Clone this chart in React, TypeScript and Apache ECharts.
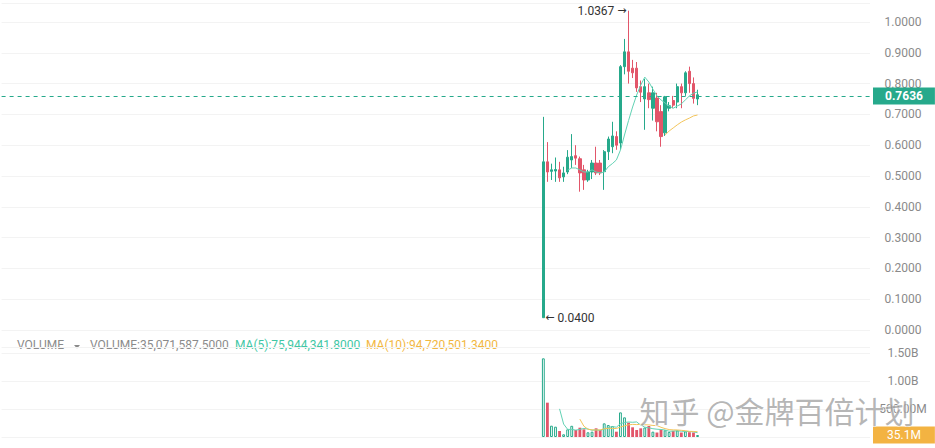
import React, { useEffect, useRef } from 'react';
import * as echarts from 'echarts';

// ---- data ----
const opens  = [0.04, 0.546, 0.515, 0.516, 0.52, 0.497, 0.513, 0.552, 0.566, 0.556, 0.52, 0.487, 0.513, 0.542, 0.542, 0.514, 0.579, 0.595, 0.628, 0.607, 0.855, 0.903, 0.85, 0.85, 0.79, 0.75, 0.77, 0.72, 0.753, 0.709, 0.64, 0.72, 0.745, 0.74, 0.79, 0.77, 0.84, 0.8, 0.75];
const closes = [0.546, 0.513, 0.52, 0.521, 0.494, 0.51, 0.561, 0.563, 0.558, 0.51, 0.487, 0.513, 0.542, 0.51, 0.51, 0.579, 0.62, 0.63, 0.6, 0.855, 0.903, 0.84, 0.835, 0.786, 0.772, 0.79, 0.748, 0.77, 0.676, 0.628, 0.757, 0.728, 0.73, 0.79, 0.77, 0.835, 0.8, 0.752, 0.7636];
const lows   = [0.04, 0.481, 0.487, 0.481, 0.481, 0.481, 0.506, 0.526, 0.536, 0.449, 0.455, 0.481, 0.49, 0.503, 0.503, 0.455, 0.552, 0.574, 0.585, 0.585, 0.83, 0.8, 0.818, 0.773, 0.74, 0.65, 0.72, 0.68, 0.645, 0.595, 0.63, 0.71, 0.72, 0.72, 0.72, 0.76, 0.77, 0.735, 0.73];
const highs  = [0.692, 0.61, 0.54, 0.56, 0.546, 0.53, 0.584, 0.636, 0.6, 0.563, 0.536, 0.52, 0.552, 0.595, 0.552, 0.584, 0.628, 0.676, 0.645, 0.86, 0.945, 1.0367, 0.877, 0.87, 0.81, 0.815, 0.8, 0.79, 0.77, 0.73, 0.76, 0.74, 0.76, 0.8, 0.8, 0.84, 0.855, 0.82, 0.78];
const ma7    = [null, null, null, null, null, null, 0.519, 0.526, 0.526, 0.52, 0.513, 0.513, 0.52, 0.513, 0.51, 0.513, 0.53, 0.54, 0.552, 0.584, 0.633, 0.68, 0.724, 0.763, 0.795, 0.821, 0.805, 0.782, 0.76, 0.747, 0.737, 0.727, 0.72, 0.727, 0.734, 0.747, 0.76, 0.769, 0.773];
const ma30   = [null, null, null, null, null, null, null, null, null, null, null, null, null, null, null, null, null, null, null, null, null, null, null, null, null, null, null, null, null, null, 0.633, 0.646, 0.656, 0.666, 0.675, 0.682, 0.688, 0.695, 0.698];
const volumes = [1405e6, 613e6, 202e6, 184e6, 107e6, 48e6, 137e6, 200e6, 125e6, 166e6, 137e6, 84e6, 95e6, 155e6, 125e6, 244e6, 214e6, 196e6, 95e6, 440e6, 351e6, 256e6, 173e6, 125e6, 155e6, 170e6, 196e6, 95e6, 80e6, 130e6, 120e6, 90e6, 110e6, 117e6, 80e6, 100e6, 85e6, 80e6, 35071587.5];
const volMa5 = [null, null, null, null, 502e6, 231e6, 136e6, 135e6, 123e6, 135e6, 153e6, 142e6, 121e6, 127e6, 119e6, 141e6, 167e6, 187e6, 175e6, 238e6, 259e6, 268e6, 263e6, 269e6, 212e6, 176e6, 164e6, 148e6, 139e6, 134e6, 124e6, 103e6, 106e6, 113e6, 103e6, 99e6, 98e6, 92e6, 75944341.8];
const volMa10 = [null, null, null, null, null, null, null, null, null, 319e6, 192e6, 139e6, 128e6, 125e6, 127e6, 147e6, 155e6, 154e6, 151e6, 179e6, 200e6, 217e6, 225e6, 222e6, 225e6, 218e6, 216e6, 206e6, 204e6, 173e6, 150e6, 133e6, 127e6, 126e6, 119e6, 112e6, 101e6, 99e6, 94720501.34];
const priceTicks = [0, 0.1, 0.2, 0.3, 0.4, 0.5, 0.6, 0.7, 0.8, 0.9, 1.0];
const volumeTicks = [0, 5e8, 1e9, 1.5e9];

// empty slots of the time axis before and after the traded period
const LEAD = 133;
const TRAIL = 42;

const UP = '#26a98b';
const DOWN = '#e2566a';
const MA_TEAL = '#62d2b4';
const MA_YELLOW = '#f3c55b';
const VOL_TAG = '#f3b342';
const AXIS_TEXT = '#8a8a8a';
const FONT = 'Roboto, "Noto Sans", sans-serif';

function fmtVol(v: number) {
  if (v >= 1e9) return (v / 1e9).toFixed(2) + 'B';
  return (v / 1e6).toFixed(2) + 'M';
}
function fmtNum4(v: number) {
  return v.toLocaleString('en-US', { minimumFractionDigits: 4, maximumFractionDigits: 4 });
}

export default function App() {
  const ref = useRef<HTMLDivElement>(null);
  useEffect(() => {
    const chart = echarts.init(ref.current!, null, { renderer: 'svg' });
    const n = opens.length;
    const N = LEAD + n + TRAIL;
    const cats = Array.from({ length: N }, (_, i) => String(i));
    const pad = (arr: any[], empty: any) => [
      ...Array(LEAD).fill(empty),
      ...arr,
      ...Array(TRAIL).fill(empty),
    ];
    const candleData = pad(
      opens.map((o, i) => [o, closes[i], lows[i], highs[i]]),
      ['-', '-', '-', '-']
    );
    const line = (arr: (number | null)[]) => pad(arr.map((v) => (v == null ? '-' : v)), '-');
    const volData = pad(
      volumes.map((v, i) => {
        const up = closes[i] >= opens[i];
        return {
          value: v,
          itemStyle: up
            ? { color: '#ffffff', borderColor: UP, borderWidth: 1 }
            : { color: DOWN, borderColor: DOWN, borderWidth: 0 },
        };
      }),
      '-'
    );
    let hiIdx = 0;
    let loIdx = 0;
    highs.forEach((h, i) => { if (h > highs[hiIdx]) hiIdx = i; });
    lows.forEach((l, i) => { if (l < lows[loIdx]) loIdx = i; });
    const lastClose = closes[n - 1];
    const lastVol = volumes[n - 1];

    const gridLeft = 1.6;
    const gridRight = 65;

    const option: any = {
      animation: false,
      backgroundColor: '#ffffff',
      textStyle: { fontFamily: FONT },
      grid: [
        { left: gridLeft, right: gridRight, top: 3.5, bottom: 118 },
        { left: gridLeft, right: gridRight, top: 347.4, bottom: 11 },
      ],
      xAxis: [
        {
          type: 'category', gridIndex: 0, data: cats, boundaryGap: true,
          axisLine: { show: false }, axisTick: { show: false }, axisLabel: { show: false },
          splitLine: { show: false },
        },
        {
          type: 'category', gridIndex: 1, data: cats, boundaryGap: true,
          axisLine: { show: false }, axisTick: { show: false }, axisLabel: { show: false },
          splitLine: { show: false },
        },
      ],
      yAxis: [
        {
          type: 'value', gridIndex: 0, position: 'right',
          min: priceTicks[0], max: 1.06, interval: priceTicks[1] - priceTicks[0],
          axisLine: { show: false }, axisTick: { show: false },
          splitLine: { show: true, lineStyle: { color: '#f3f3f3', width: 1 } },
          axisLabel: {
            show: true, showMaxLabel: false, align: 'center', margin: 33,
            color: AXIS_TEXT, fontSize: 12, fontFamily: FONT,
            formatter: (v: number) => v.toFixed(4),
          },
        },
        {
          type: 'value', gridIndex: 1, position: 'right',
          min: volumeTicks[0], max: 1.6e9, interval: volumeTicks[1] - volumeTicks[0],
          axisLine: { show: false }, axisTick: { show: false },
          splitLine: { show: true, lineStyle: { color: '#f3f3f3', width: 1 } },
          axisLabel: {
            show: true, showMaxLabel: false, showMinLabel: false, align: 'center', margin: 33,
            color: AXIS_TEXT, fontSize: 12, fontFamily: FONT,
            formatter: (v: number) => fmtVol(v),
          },
        },
      ],
      series: [
        {
          type: 'candlestick', name: 'K', xAxisIndex: 0, yAxisIndex: 0,
          data: candleData, barWidth: '70%',
          itemStyle: { color: UP, color0: DOWN, borderColor: UP, borderColor0: DOWN, borderWidth: 1 },
          markLine: {
            silent: true, symbol: ['none', 'none'], animation: false,
            data: [{ yAxis: lastClose }],
            lineStyle: { color: UP, type: [4, 4], width: 1 },
            label: {
              show: true, position: 'end', distance: 3,
              formatter: lastClose.toFixed(4),
              color: '#ffffff', backgroundColor: UP, padding: [3, 12, 2, 12],
              fontWeight: 'bold', fontSize: 12, fontFamily: FONT,
            },
          },
          markPoint: {
            silent: true, animation: false,
            symbol: 'circle', symbolSize: 2,
            itemStyle: { color: 'rgba(0,0,0,0)' },
            data: [
              {
                coord: [LEAD + hiIdx, highs[hiIdx]],
                label: {
                  show: true, position: 'left', distance: 1,
                  formatter: highs[hiIdx].toFixed(4) + ' {ar|\u2192}',
                  color: '#333333', fontSize: 12, fontFamily: FONT,
                  rich: { ar: { fontFamily: '"DejaVu Sans"', fontSize: 11, color: '#333333' } },
                },
              },
              {
                coord: [LEAD + loIdx, lows[loIdx]],
                label: {
                  show: true, position: 'right', distance: 1,
                  formatter: '{ar|\u2190} ' + lows[loIdx].toFixed(4),
                  color: '#333333', fontSize: 12, fontFamily: FONT,
                  rich: { ar: { fontFamily: '"DejaVu Sans"', fontSize: 11, color: '#333333' } },
                },
              },
            ],
          },
        },
        {
          type: 'line', name: 'MA7', xAxisIndex: 0, yAxisIndex: 0,
          data: line(ma7), symbol: 'none', showSymbol: false,
          lineStyle: { color: MA_TEAL, width: 1 },
        },
        {
          type: 'line', name: 'MA30', xAxisIndex: 0, yAxisIndex: 0,
          data: line(ma30), symbol: 'none', showSymbol: false,
          lineStyle: { color: MA_YELLOW, width: 1 },
        },
        {
          type: 'bar', name: 'VOLUME', xAxisIndex: 1, yAxisIndex: 1,
          data: volData, barWidth: '70%',
          markLine: {
            silent: true, symbol: ['none', 'none'], animation: false,
            data: [{ yAxis: lastVol }],
            lineStyle: { color: 'rgba(255,255,255,0)', type: 'solid', width: 1 },
            label: {
              show: true, position: 'end', distance: 3,
              formatter: (lastVol / 1e6).toFixed(1) + 'M',
              color: '#ffffff', backgroundColor: VOL_TAG, padding: [3, 14, 2, 14],
              fontSize: 12, fontFamily: FONT,
            },
          },
        },
        {
          type: 'line', name: 'VMA5', xAxisIndex: 1, yAxisIndex: 1,
          data: line(volMa5), symbol: 'none', showSymbol: false,
          lineStyle: { color: MA_TEAL, width: 1 },
        },
        {
          type: 'line', name: 'VMA10', xAxisIndex: 1, yAxisIndex: 1,
          data: line(volMa10), symbol: 'none', showSymbol: false,
          lineStyle: { color: MA_YELLOW, width: 1 },
        },
      ],
      graphic: [
        {
          type: 'text', left: 17, top: 339,
          style: { text: 'VOLUME', fill: AXIS_TEXT, fontSize: 12, fontFamily: FONT },
        },
        {
          type: 'polygon',
          shape: { points: [[74, 345], [80, 345], [77, 348.5]] },
          style: { fill: AXIS_TEXT },
        },
        {
          type: 'text', left: 90, top: 339,
          style: { text: 'VOLUME:' + fmtNum4(lastVol), fill: AXIS_TEXT, fontSize: 12, fontFamily: FONT },
        },
        {
          type: 'text', left: 235, top: 339,
          style: { text: 'MA(5):' + fmtNum4(volMa5[n - 1] as number), fill: '#3fc7a5', fontSize: 12, fontFamily: FONT },
        },
        {
          type: 'text', left: 366, top: 339,
          style: { text: 'MA(10):' + fmtNum4(volMa10[n - 1] as number), fill: '#f2b73f', fontSize: 12, fontFamily: FONT },
        },
        {
          type: 'text', left: 639, top: 394, z: 100,
          style: {
            text: '知乎 @金牌百倍计划', fill: 'rgba(150,150,150,0.7)',
            stroke: 'rgba(255,255,255,0.8)', lineWidth: 1,
            fontSize: 30, fontFamily: '"Noto Sans CJK SC", sans-serif',
          },
        },
      ],
    };
    chart.setOption(option);
    return () => chart.dispose();
  }, []);
  return <div ref={ref} style={{ position: 'fixed', left: 0, top: 0, width: 935, height: 448 }} />;
}
